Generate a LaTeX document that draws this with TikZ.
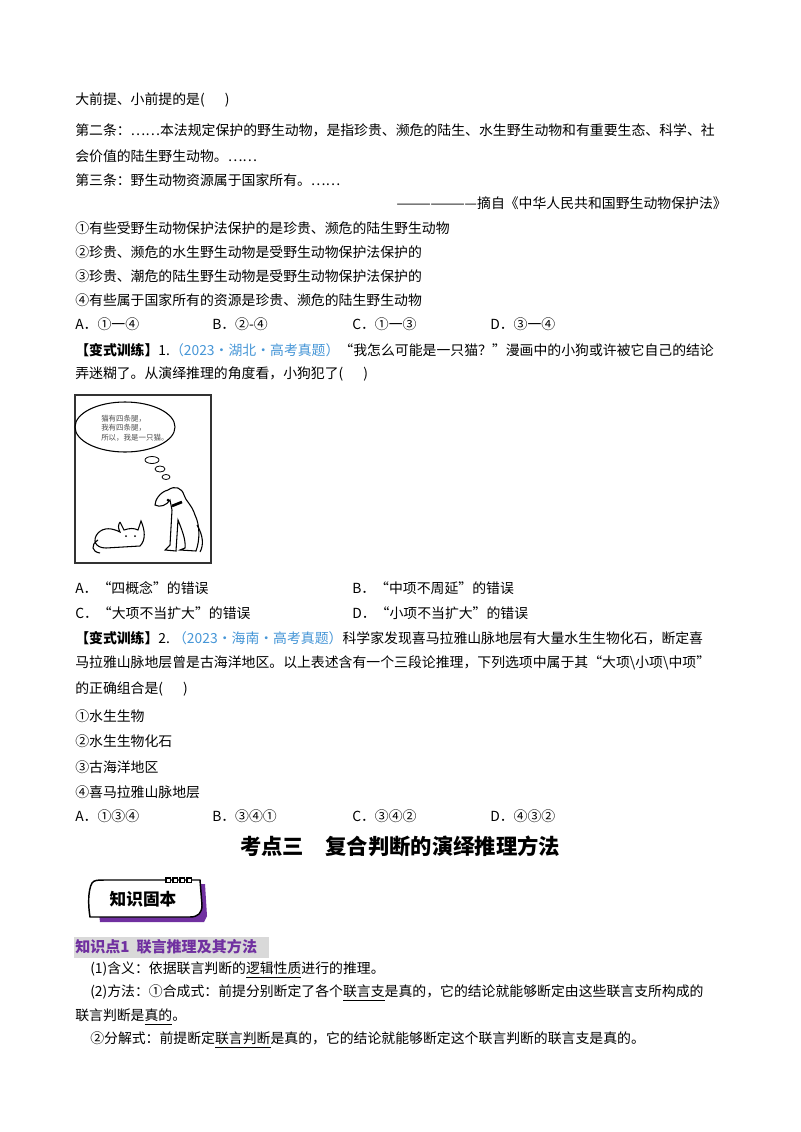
\documentclass[tikz,border=0pt]{standalone}
\usepackage{fontspec}
\setmainfont{Liberation Serif}
\newfontfamily\cjk{Noto Sans CJK SC}
\usetikzlibrary{shapes.geometric}
\definecolor{blu}{RGB}{70,150,215}
\definecolor{pur}{RGB}{112,48,160}
\definecolor{hg}{RGB}{217,217,217}
\tikzset{t/.style={anchor=west,inner sep=0pt,font=\cjk\fontsize{10.4pt}{12pt}\selectfont},
 tr/.style={t,anchor=east}}
\newcommand{\ul}[1]{\underline{#1}}
\begin{document}
\begin{tikzpicture}[x=0.75pt,y=-0.75pt]
\useasboundingbox (0,0) rectangle (800,1132);
\fill[white] (0,0) rectangle (800,1132);
\node[t] (l1) at (75,100) {大前提、小前提的是(\quad\ \ )};
\node[t] (l2) at (75,130) {第二条：……本法规定保护的野生动物，是指珍贵、濒危的陆生、水生野生动物和有重要生态、科学、社};
\node[t] (l3) at (75,156) {会价值的陆生野生动物。……};
\node[t] (l4) at (75,180) {第三条：野生动物资源属于国家所有。……};
\node[tr] (l5) at (727,203) {———————摘自《中华人民共和国野生动物保护法》};
\node[t] (o1) at (75,228) {①有些受野生动物保护法保护的是珍贵、濒危的陆生野生动物};
\node[t] (o2) at (75,252) {②珍贵、濒危的水生野生动物是受野生动物保护法保护的};
\node[t] (o3) at (75,276) {③珍贵、潮危的陆生野生动物是受野生动物保护法保护的};
\node[t] (o4) at (75,300) {④有些属于国家所有的资源是珍贵、濒危的陆生野生动物};
\node[t] (a1) at (75,324) {A．①一④};
\node[t] (b1) at (212,324) {B．②-④};
\node[t] (c1) at (352,324) {C．①一③};
\node[t] (d1) at (490,324) {D．③一④};
\node[t] (q1) at (75,350) {\textbf{【变式训练】}1.\textcolor{blu}{（2023•湖北•高考真题）}“我怎么可能是一只猫？”漫画中的小狗或许被它自己的结论};
\node[t] (q1b) at (75,374) {弄迷糊了。从演绎推理的角度看，小狗犯了(\quad\ \ )};
% cartoon
\draw[line width=1.2pt,black!80] (75,395) rectangle (211,563);
\draw[line width=0.8pt] (125,427) ellipse [x radius=50,y radius=25];
\node[anchor=west,inner sep=0pt,align=left,font=\cjk\fontsize{5.6pt}{7pt}\selectfont,black!70] (bub) at (101,428) {猫有四条腿，\\我有四条腿，\\所以，我是一只猫。};
\draw[line width=0.6pt] (152,460) ellipse [x radius=7,y radius=3.5];
\draw[line width=0.6pt] (160,469) ellipse [x radius=5,y radius=3];
\draw[line width=0.6pt] (166,477) ellipse [x radius=4,y radius=2.5];
% dog
\draw[line width=0.8pt] (168,490) .. controls (160,492) and (155,500) .. (155,505)
 .. controls (160,508) and (167,505) .. (170,500) -- (172,510) -- (170,545) -- (165,550) -- (176,551)
 -- (178,520) .. controls (182,530) and (186,540) .. (185,548) -- (180,550) -- (196,551)
 .. controls (200,540) and (200,525) .. (195,515) .. controls (192,505) and (185,500) .. (184,495)
 .. controls (182,488) and (175,485) .. (168,490);
\draw[line width=0.8pt] (197,525) .. controls (203,535) and (204,545) .. (200,552);
\fill (168,500) circle (1.5);
\draw[line width=2pt] (172,506) -- (182,502);
% cat
\draw[line width=0.8pt] (120,522) -- (124,530) .. controls (130,528) and (134,528) .. (138,530) -- (141,521)
 .. controls (145,530) and (146,540) .. (140,546) -- (106,548) .. controls (95,548) and (92,540) .. (98,533)
 .. controls (104,527) and (112,528) .. (120,532) .. controls (118,528) and (118,525) .. (120,522);
\draw[line width=0.8pt] (98,540) .. controls (90,545) and (92,552) .. (100,553);
\fill (126,536) circle (1); \fill (135,536) circle (1);
\node[t] (a2) at (75,588) {A．“四概念”的错误};
\node[t] (b2) at (352,588) {B．“中项不周延”的错误};
\node[t] (c2) at (75,613) {C．“大项不当扩大”的错误};
\node[t] (d2) at (352,613) {D．“小项不当扩大”的错误};
\node[t] (q2) at (75,638) {\textbf{【变式训练】}2.\textcolor{blu}{\ （2023•海南•高考真题）}科学家发现喜马拉雅山脉地层有大量水生生物化石，断定喜};
\node[t] (q2b) at (75,663) {马拉雅山脉地层曾是古海洋地区。以上表述含有一个三段论推理，下列选项中属于其“大项\textbackslash 小项\textbackslash 中项”};
\node[t] (q2c) at (75,689) {的正确组合是(\quad\ \ )};
\node[t] (p1) at (75,716) {①水生生物};
\node[t] (p2) at (75,741) {②水生生物化石};
\node[t] (p3) at (75,767) {③古海洋地区};
\node[t] (p4) at (75,792) {④喜马拉雅山脉地层};
\node[t] (a3) at (75,816) {A．①③④};
\node[t] (b3) at (212,816) {B．③④①};
\node[t] (c3) at (352,816) {C．③④②};
\node[t] (d3) at (490,816) {D．④③②};
\node[inner sep=0pt,font=\cjk\bfseries\fontsize{16pt}{18pt}\selectfont] (title) at (400,846) {考点三\quad 复合判断的演绎推理方法};
% badge
\fill[pur] (96,888) .. controls (96,884) and (100,884) .. (104,884) -- (205,884) -- (207,916) -- (204,922) -- (100,922) -- cycle;
\draw[line width=1.1pt,fill=white] (92,883) .. controls (94,880) and (98,880) .. (104,880) -- (200,880) -- (202,905) .. controls (202,913) and (198,917) .. (190,917) -- (90,917) .. controls (88,905) and (88,890) .. (92,883);
\foreach \i in {0,1,2,3} \draw[line width=0.8pt,fill=white] (166+\i*7,878) rectangle ++(4.5,4.5);
\node[inner sep=0pt,font=\cjk\bfseries\fontsize{12.5pt}{14pt}\selectfont] (badge) at (143,899) {知识固本};
% heading
\fill[hg] (74,937) rectangle (269,958);
\node[t,font=\cjk\bfseries\fontsize{11.3pt}{13pt}\selectfont,text=pur] (h1) at (75,947) {知识点1\ \ 联言推理及其方法};
\node[t] (s1) at (90,970) {(1)含义：依据联言判断的\ul{逻辑性质}进行的推理。};
\node[t] (s2) at (90,993) {(2)方法：①合成式：前提分别断定了各个\ul{联言支}是真的，它的结论就能够断定由这些联言支所构成的};
\node[t] (s3) at (75,1017) {联言判断是\ul{真的}。};
\node[t] (s4) at (90,1040) {②分解式：前提断定\ul{联言判断}是真的，它的结论就能够断定这个联言判断的联言支是真的。};
\end{tikzpicture}
\end{document}
